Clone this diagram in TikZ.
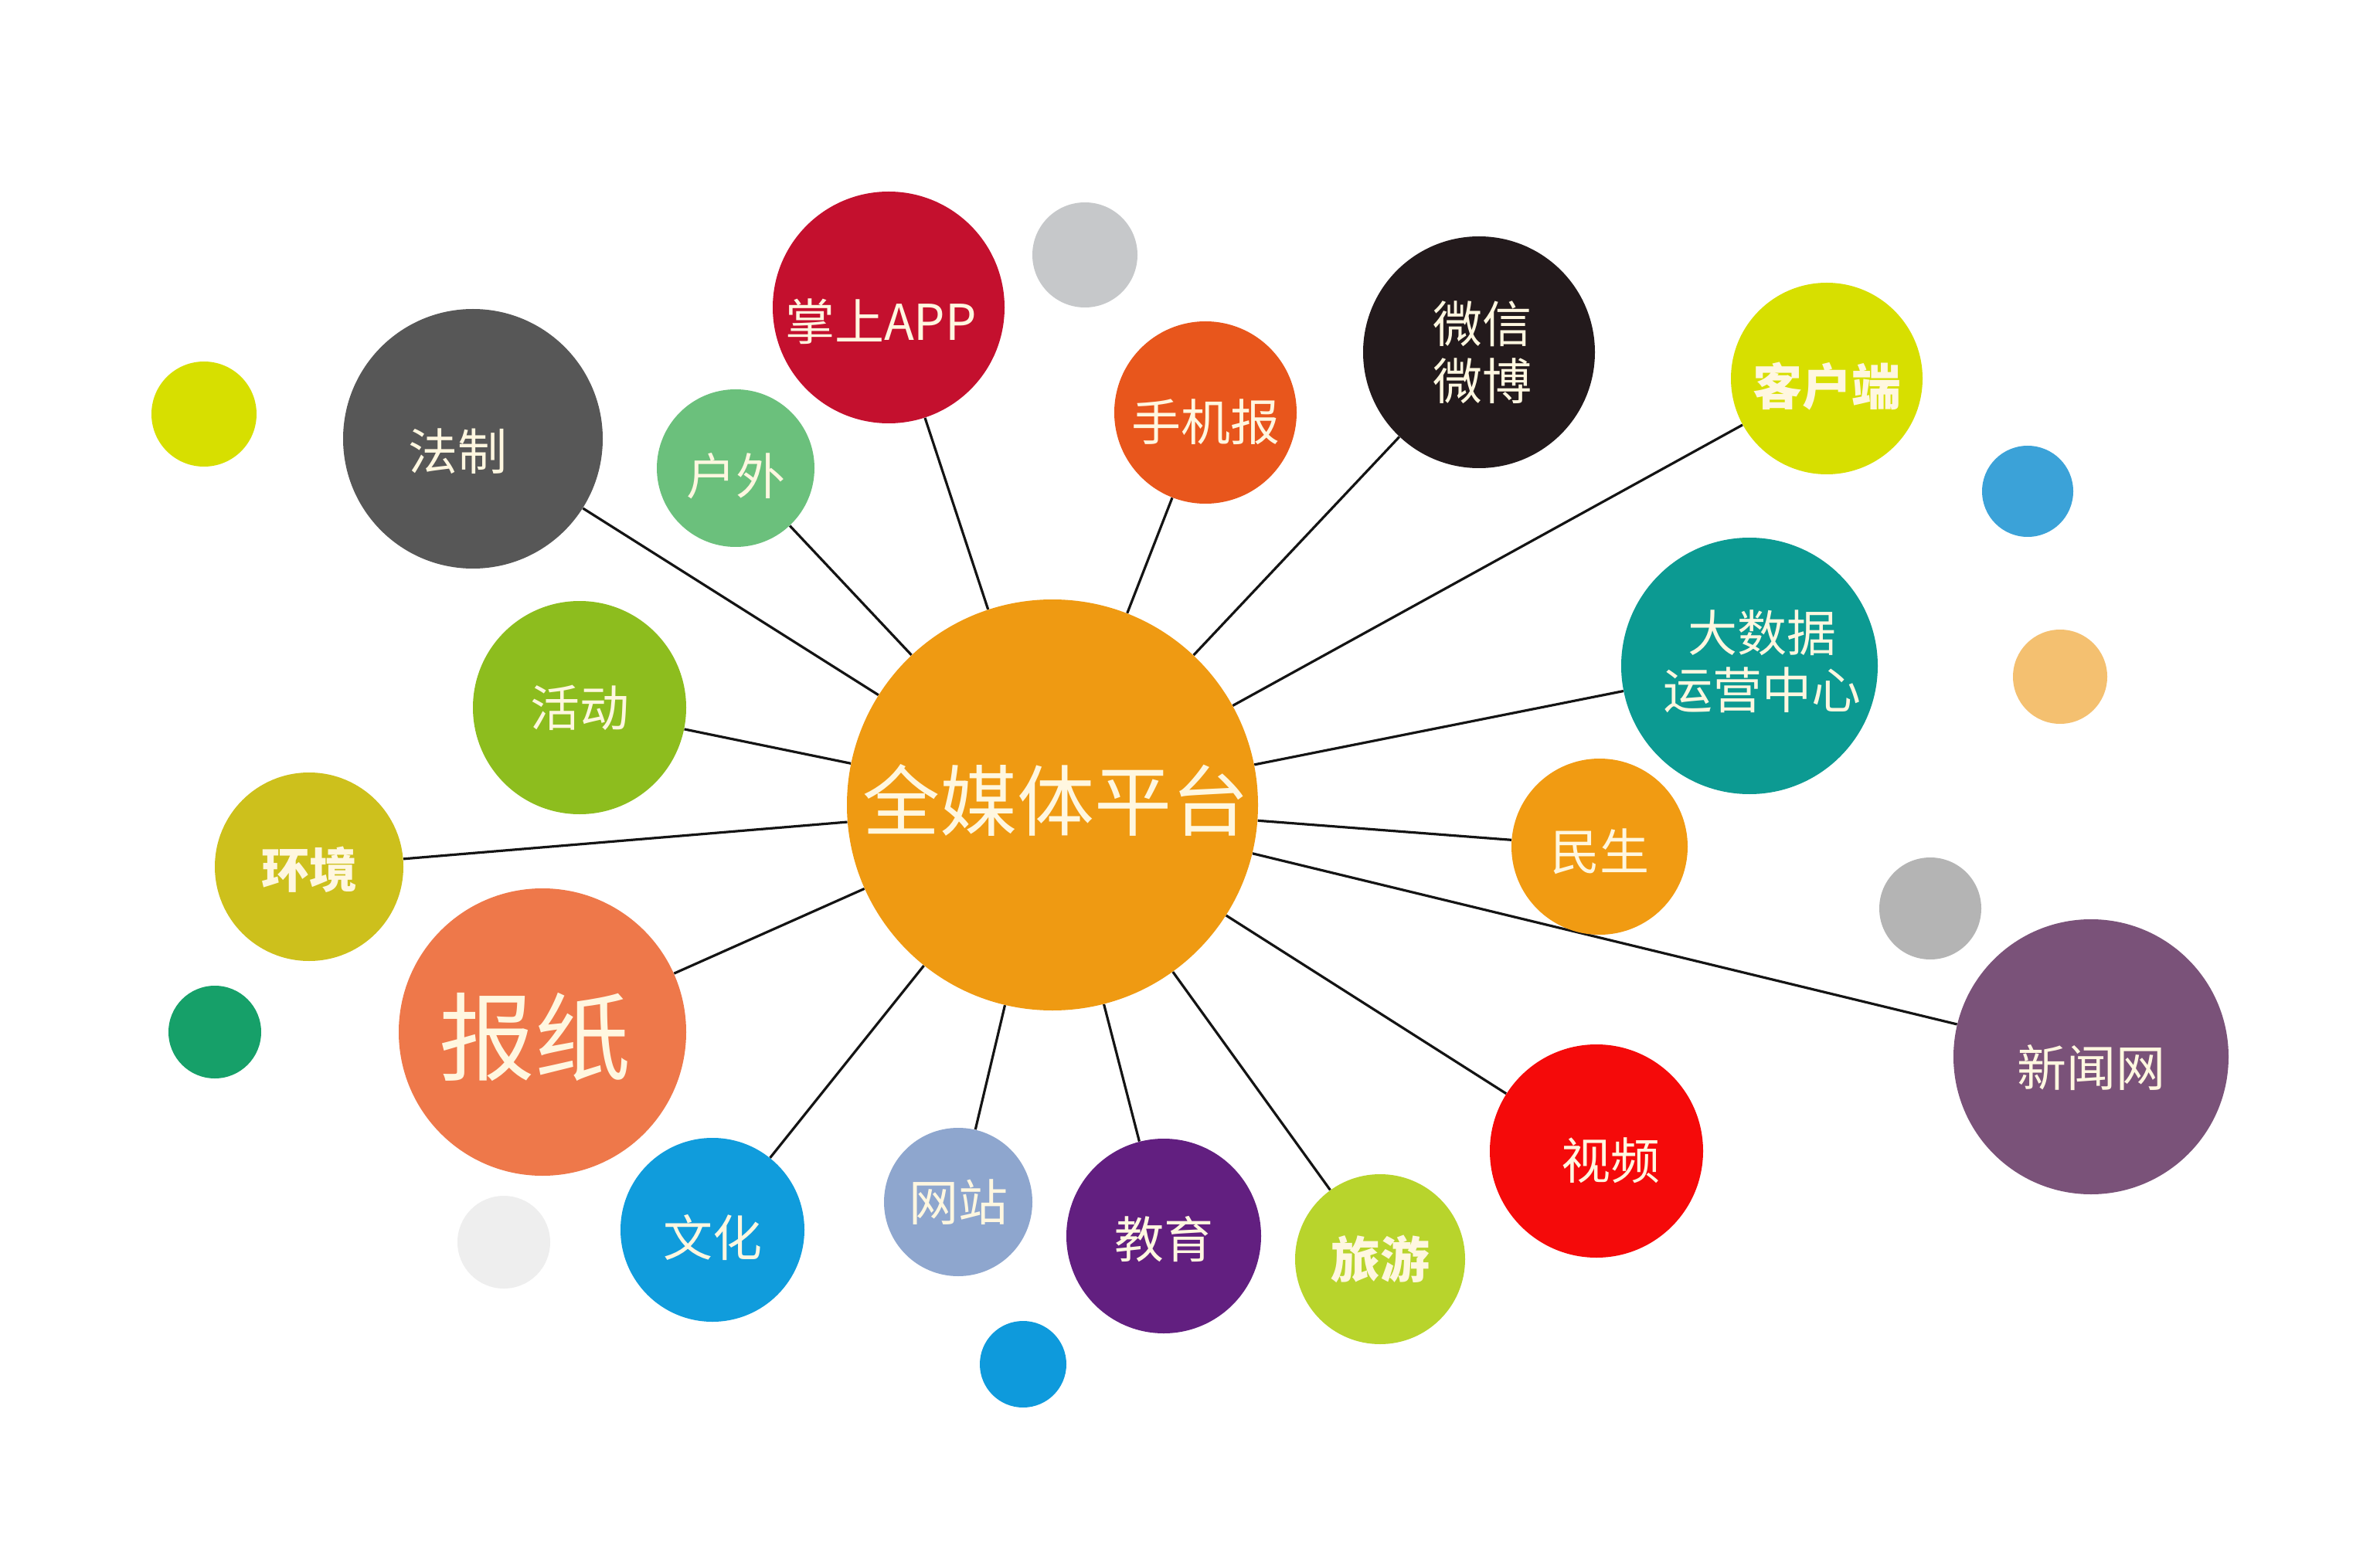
\documentclass[tikz,border=0pt]{standalone}
\usepackage{fontspec}
\setmainfont{Noto Sans CJK SC}
\usetikzlibrary{backgrounds}
\definecolor{txt}{HTML}{FFF7E0}
\definecolor{cMain}{HTML}{EF9A12}
\definecolor{cFazhi}{HTML}{575757}
\definecolor{cApp}{HTML}{C4102E}
\definecolor{cGrayA}{HTML}{C6C8CA}
\definecolor{cShouji}{HTML}{E8561C}
\definecolor{cWeixin}{HTML}{231A1C}
\definecolor{cKehu}{HTML}{D7DF00}
\definecolor{cBlueA}{HTML}{3BA2D8}
\definecolor{cHuwai}{HTML}{6BC07C}
\definecolor{cYellowA}{HTML}{D7DF00}
\definecolor{cData}{HTML}{0C9A92}
\definecolor{cOrangeA}{HTML}{F4C070}
\definecolor{cHuodong}{HTML}{8DBD1E}
\definecolor{cHuanjing}{HTML}{CDC01C}
\definecolor{cMinsheng}{HTML}{F19B12}
\definecolor{cGrayB}{HTML}{B4B4B4}
\definecolor{cBaozhi}{HTML}{EE784A}
\definecolor{cXinwen}{HTML}{7A5279}
\definecolor{cGreenA}{HTML}{16A069}
\definecolor{cShipin}{HTML}{F50A0A}
\definecolor{cWenhua}{HTML}{109CDC}
\definecolor{cWangzhan}{HTML}{8EA6CE}
\definecolor{cJiaoyu}{HTML}{621F80}
\definecolor{cLvyou}{HTML}{B8D42C}
\definecolor{cLightGray}{HTML}{EEEEEE}
\definecolor{cBlueB}{HTML}{0E9ADC}
\begin{document}
\begin{tikzpicture}[x=1pt,y=-1pt,
  dot/.style 2 args={circle, fill=#1, minimum size=2*#2pt, inner sep=0pt},
  lab/.style={inner sep=0pt, text=txt, align=center, font=\fontsize{32}{37}\selectfont},
  labb/.style={lab, font=\fontsize{32}{37}\selectfont\bfseries},
  link/.style={draw=black!92, line width=1.6pt}]
\begin{scope}[on background layer]
  \fill[white] (0,0) rectangle (1540,1000);
\end{scope}
\useasboundingbox (0,0) rectangle (1540,1000);

% decorative dots
\node[dot={cGrayA}{34}]     (g1) at (702,165) {};
\node[dot={cBlueA}{29.5}]   (b1) at (1312,318) {};
\node[dot={cYellowA}{34}]   (y1) at (132,268) {};
\node[dot={cOrangeA}{30.5}] (o1) at (1333,438) {};
\node[dot={cGrayB}{33}]     (g2) at (1249,588) {};
\node[dot={cGreenA}{30}]    (gr1) at (139,668) {};
\node[dot={cLightGray}{30}] (lg1) at (326,804) {};
\node[dot={cBlueB}{28}]     (b2) at (662,883) {};

% main bubble
\node[dot={cMain}{133}] (c) at (681,521) {};
\node[lab, font=\fontsize{50}{56}\selectfont, xshift=2pt, yshift=3pt] (c-t) at (c) {全媒体平台};

% satellite bubbles
\node[dot={cFazhi}{84}]     (fazhi)    at (306,284) {};
\node[dot={cApp}{75}]       (app)      at (575,199) {};
\node[dot={cShouji}{59}]    (shouji)   at (780,267) {};
\node[dot={cWeixin}{75}]    (weixin)   at (957,228) {};
\node[dot={cKehu}{62}]      (kehu)     at (1182,245) {};
\node[dot={cHuwai}{51}]     (huwai)    at (476,303) {};
\node[dot={cData}{83}]      (data)     at (1132,431) {};
\node[dot={cHuodong}{69}]   (huodong)  at (375,458) {};
\node[dot={cHuanjing}{61}]  (huanjing) at (200,561) {};
\node[dot={cMinsheng}{57}]  (minsheng) at (1035,548) {};
\node[dot={cBaozhi}{93}]    (baozhi)   at (351,668) {};
\node[dot={cXinwen}{89}]    (xinwen)   at (1353,684) {};
\node[dot={cShipin}{69}]    (shipin)   at (1033,745) {};
\node[dot={cWenhua}{59.5}]  (wenhua)   at (461,796) {};
\node[dot={cWangzhan}{48}]  (wangzhan) at (620,778) {};
\node[dot={cJiaoyu}{63}]    (jiaoyu)   at (753,800) {};
\node[dot={cLvyou}{55}]     (lvyou)    at (893,815) {};

% labels
\node[lab, xshift=-10pt, yshift=-8pt] (fazhi-t) at (fazhi) {法制};
\node[lab, xshift=-5pt, yshift=-9pt]  (app-t) at (app) {掌上APP};
\node[lab, yshift=-6pt]               (shouji-t) at (shouji) {手机报};
\node[lab, xshift=2pt]                (weixin-t) at (weixin) {微信\\微博};
\node[labb, yshift=-5pt]              (kehu-t) at (kehu) {客户端};
\node[lab, yshift=-5pt]               (huwai-t) at (huwai) {户外};
\node[lab, xshift=8pt, yshift=3pt]    (data-t) at (data) {大数据\\运营中心};
\node[lab]                            (huodong-t) at (huodong) {活动};
\node[labb, font=\fontsize{31}{37}\selectfont\bfseries, yshift=-2pt] (huanjing-t) at (huanjing) {环境};
\node[lab, yshift=-3pt]               (minsheng-t) at (minsheng) {民生};
\node[lab, font=\fontsize{62}{70}\selectfont, xshift=-5pt, yshift=-3pt] (baozhi-t) at (baozhi) {报纸};
\node[lab, yshift=-7pt]               (xinwen-t) at (xinwen) {新闻网};
\node[lab, xshift=9pt, yshift=-6pt]   (shipin-t) at (shipin) {视频};
\node[lab, yshift=-5pt]               (wenhua-t) at (wenhua) {文化};
\node[lab]                            (wangzhan-t) at (wangzhan) {网站};
\node[lab, yshift=-2pt]               (jiaoyu-t) at (jiaoyu) {教育};
\node[labb]                           (lvyou-t) at (lvyou) {旅游};

% connectors
\begin{scope}[on background layer]
  \foreach \n in {fazhi,app,shouji,weixin,kehu,huwai,data,huodong,huanjing,
                  minsheng,baozhi,xinwen,shipin,wenhua,wangzhan,jiaoyu,lvyou}
    \draw[link] (c) -- (\n);
\end{scope}
\end{tikzpicture}
\end{document}
